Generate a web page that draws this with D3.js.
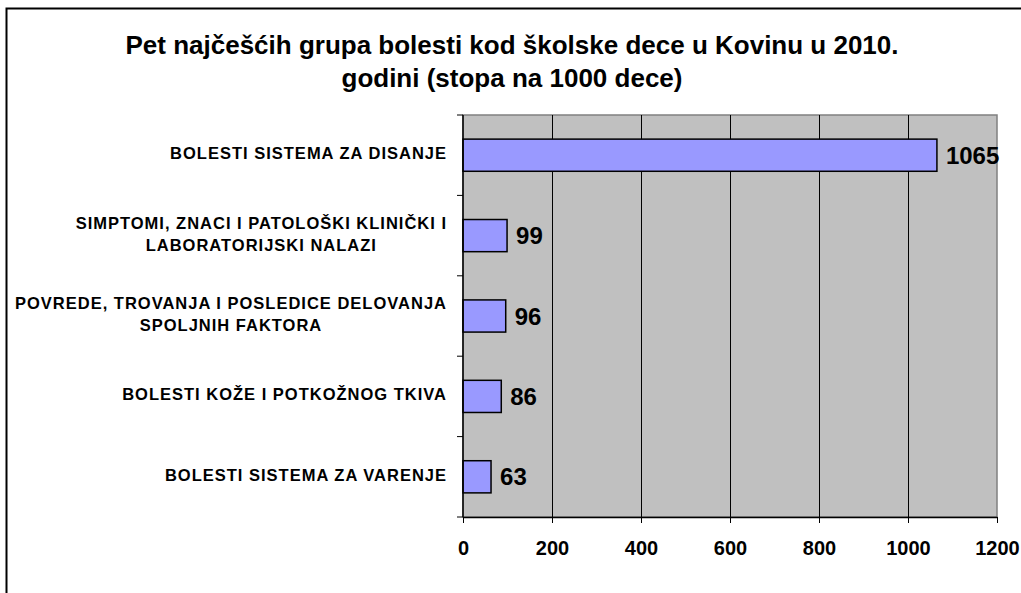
<!DOCTYPE html>
<html><head><meta charset="utf-8">
<script src="https://cdn.jsdelivr.net/npm/d3@7"></script>
<style>
html,body{margin:0;padding:0;background:#fff;}
svg{display:block;font-family:"Liberation Sans",Arial,sans-serif;}
</style></head>
<body>
<svg id="chart" width="1021" height="593"></svg>
<script>
const titleLines = ["Pet najčešćih grupa bolesti kod školske dece u Kovinu u 2010.", "godini (stopa na 1000 dece)"];
const categories = [
  ["BOLESTI SISTEMA ZA DISANJE"],
  ["SIMPTOMI, ZNACI I PATOLOŠKI KLINIČKI I", "LABORATORIJSKI NALAZI"],
  ["POVREDE, TROVANJA I POSLEDICE DELOVANJA", "SPOLJNIH FAKTORA"],
  ["BOLESTI KOŽE I POTKOŽNOG TKIVA"],
  ["BOLESTI SISTEMA ZA VARENJE"]
];
const values = [1065, 99, 96, 86, 63];
const xTicks = [0, 200, 400, 600, 800, 1000, 1200];

const svg = d3.select("#chart");
const plot = {left: 463, right: 997, top: 115, bottom: 517};

// outer chart border
svg.append("rect").attr("x", 6.5).attr("y", 8.5).attr("width", 1030).attr("height", 600)
  .attr("fill", "none").attr("stroke", "#000").attr("stroke-width", 2);

// title
const title = svg.append("text").attr("text-anchor", "middle").attr("font-weight", "bold")
  .attr("font-size", 26).attr("fill", "#000");
titleLines.forEach((t, i) => {
  title.append("tspan").attr("x", 512).attr("y", 54 + i * 33).text(t);
});

const x = d3.scaleLinear().domain([0, 1200]).range([plot.left, plot.right]);
const idx = categories.map((d, i) => i);
const y = d3.scaleBand().domain(idx).range([plot.top, plot.bottom]).paddingInner(0.6).paddingOuter(0.3);
const yOuter = d3.scaleBand().domain(idx).range([plot.top, plot.bottom]);

// plot background
svg.append("rect").attr("x", plot.left).attr("y", plot.top)
  .attr("width", plot.right - plot.left).attr("height", plot.bottom - plot.top)
  .attr("fill", "#c0c0c0").attr("stroke", "#808080").attr("stroke-width", 1.5);

// gridlines
svg.append("g").selectAll("line").data(xTicks.filter(t => t > 0 && t < 1200)).join("line")
  .attr("x1", d => Math.round(x(d)) + 0.5).attr("x2", d => Math.round(x(d)) + 0.5)
  .attr("y1", plot.top).attr("y2", plot.bottom).attr("stroke", "#000").attr("stroke-width", 1);

// bars
svg.append("g").selectAll("rect").data(values).join("rect")
  .attr("x", x(0)).attr("y", (d, i) => y(i))
  .attr("width", d => x(d) - x(0)).attr("height", y.bandwidth())
  .attr("fill", "#9999ff").attr("stroke", "#000").attr("stroke-width", 1.5);

// value labels
svg.append("g").selectAll("text").data(values).join("text")
  .attr("x", d => x(d) + 9).attr("y", (d, i) => y(i) + y.bandwidth() / 2)
  .attr("dy", "0.36em").attr("font-size", 24).attr("font-weight", "bold").text(d => d);

// x axis
const xAxis = svg.append("g").attr("transform", `translate(0,${plot.bottom})`)
  .call(d3.axisBottom(x).tickValues(xTicks).tickFormat(d3.format("d")).tickSize(6).tickPadding(18).tickSizeOuter(0));
xAxis.select(".domain").attr("stroke", "#000").attr("stroke-width", 1.5);
xAxis.selectAll(".tick line").attr("stroke", "#000");
xAxis.selectAll(".tick text").attr("font-size", 20).attr("font-weight", "bold")
  .attr("font-family", "Liberation Sans, Arial, sans-serif").attr("fill", "#000");

// y axis (ticks between categories)
const yTickPos = idx.map(i => yOuter(i)).concat([plot.bottom]);
svg.append("line").attr("x1", plot.left).attr("x2", plot.left).attr("y1", plot.top).attr("y2", plot.bottom)
  .attr("stroke", "#000").attr("stroke-width", 1.5);
svg.append("g").selectAll("line").data(yTickPos).join("line")
  .attr("x1", plot.left - 6).attr("x2", plot.left).attr("y1", d => d).attr("y2", d => d)
  .attr("stroke", "#000");

// category labels
const lineH = 22;
const catG = svg.append("g").attr("font-size", 16.5).attr("font-weight", "bold").attr("fill", "#000")
  .attr("letter-spacing", "1px");
categories.forEach((lines, i) => {
  const cy = yOuter(i) + yOuter.bandwidth() / 2;
  const g = catG.append("g");
  const texts = lines.map((l, j) => g.append("text").attr("text-anchor", "middle")
    .attr("y", cy - 2 + (j - (lines.length - 1) / 2) * lineH).attr("dy", "0.36em").text(l));
  const w = d3.max(texts, t => t.node().getComputedTextLength());
  const cx = 447 - w / 2;
  texts.forEach(t => t.attr("x", cx));
});
</script>
</body></html>
